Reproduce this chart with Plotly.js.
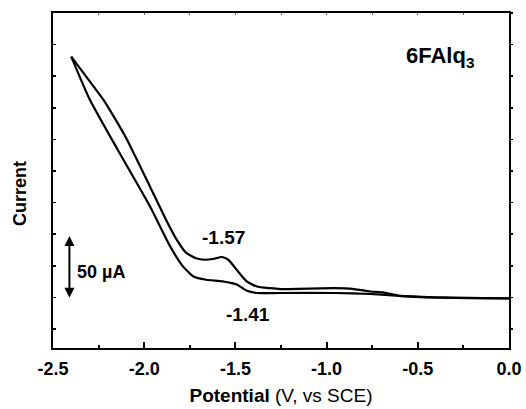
<!DOCTYPE html>
<html>
<head>
<meta charset="utf-8">
<script src="https://cdn.plot.ly/plotly-3.0.1.min.js"></script>
<style>html,body{margin:0;padding:0;background:#fff;}</style>
</head>
<body>
<div id="chart" style="width:526px;height:409px;"></div>
<script>
// Cyclic voltammogram of 6FAlq3 (current in µA, potential in V vs SCE)
var potentialUpper = [0, -0.29, -0.415, -0.6, -0.69, -0.76, -0.85, -0.96, -1.255, -1.31, -1.383, -1.438, -1.493, -1.539, -1.575, -1.623, -1.667, -1.716, -1.771, -1.822, -1.886, -1.968, -2.094, -2.160, -2.224, -2.314, -2.40];
var currentUpper   = [-0.8, -0.3, 0, 1.3, 4.0, 4.7, 6.6, 7.3, 6.6, 7.3, 8.7, 12.7, 21.9, 29.8, 32.0, 30.4, 29.8, 31.0, 35.4, 45.7, 63.1, 87.6, 124.8, 141.4, 156.5, 173.9, 190.5];
var potentialLower = [-2.40, -2.30, -2.15, -1.97, -1.86, -1.79, -1.73, -1.66, -1.57, -1.49, -1.44, -1.38, -1.26, -0.95, -0.76, -0.6, -0.415, -0.29, 0];
var currentLower   = [190.5, 157.0, 118.0, 72.5, 41.0, 25.0, 16.6, 14.0, 12.7, 10.1, 5.5, 3.5, 3.5, 3.5, 2.7, 1.3, 0, -0.3, -0.8];
var xTickVals = [-2.5, -2.0, -1.5, -1.0, -0.5, 0.0];
var xTickText = ["-2.5", "-2.0", "-1.5", "-1.0", "-0.5", "0.0"];
var peakLabels = ["-1.57", "-1.41"];
var compoundLabel = "6FAlq<sub>3</sub>";
var scaleBarLabel = "50 µA";
var scaleBarPotential = -2.41;
var scaleBarCurrent = [-1.5, 48.5];

var FONT = "Arial, 'Liberation Sans', Helvetica, sans-serif";
var lineStyle = {color: "#000", width: 2.2, shape: "spline", smoothing: 0.5};

var traces = [
  {x: potentialUpper, y: currentUpper, mode: "lines", line: lineStyle, hoverinfo: "x+y", showlegend: false},
  {x: potentialLower, y: currentLower, mode: "lines", line: lineStyle, hoverinfo: "x+y", showlegend: false},
  {x: [null], y: [null], xaxis: "x2", yaxis: "y2", showlegend: false, hoverinfo: "skip"}
];

var layout = {
  width: 526, height: 409,
  margin: {l: 53, r: 17, t: 13, b: 61},
  paper_bgcolor: "#fff", plot_bgcolor: "#fff",
  font: {family: FONT, color: "#000"},
  showlegend: false,
  xaxis: {
    range: [-2.5, 0.0], tickmode: "array", tickvals: xTickVals, ticktext: xTickText,
    ticks: "inside", ticklen: 6, tickwidth: 2, tickcolor: "#000",
    minor: {dtick: 0.25, ticks: "inside", ticklen: 3, tickwidth: 2, tickcolor: "#000"},
    showline: true, linewidth: 2, linecolor: "#000", mirror: true,
    showgrid: false, zeroline: false, ticklabelstandoff: 3,
    tickfont: {size: 18, weight: "bold", family: FONT},
    title: {text: "<b>Potential</b> (V, vs SCE)", font: {size: 19, family: FONT}, standoff: 11}
  },
  yaxis: {
    range: [-40, 225], tick0: 0, dtick: 25,
    ticks: "inside", ticklen: 3, tickwidth: 1.5, tickcolor: "#000",
    showticklabels: false,
    showline: true, linewidth: 2, linecolor: "#000", mirror: true,
    showgrid: false, zeroline: false
  },
  xaxis2: {
    overlaying: "x", side: "top", range: [-2.5, 0.0], dtick: 0.25, tick0: 0,
    ticks: "inside", ticklen: 2, tickwidth: 1, tickcolor: "#666",
    showticklabels: false, showline: false, showgrid: false, zeroline: false
  },
  yaxis2: {
    overlaying: "y", side: "right", range: [-40, 225], tick0: 0, dtick: 25,
    ticks: "outside", ticklen: 3, tickwidth: 1.5, tickcolor: "#000",
    showticklabels: false, showline: false, showgrid: false, zeroline: false
  },
  annotations: [
    {xref: "paper", yref: "paper", x: -0.0735, y: 0.461, text: "<b>Current</b>", textangle: -90,
     showarrow: false, font: {size: 18, family: FONT}, xanchor: "center", yanchor: "middle"},
    {xref: "x", yref: "y", x: -0.575, y: 190, text: "<b>" + compoundLabel + "</b>", showarrow: false,
     xanchor: "left", yanchor: "middle", font: {size: 22, family: FONT}},
    {xref: "x", yref: "y", x: -1.565, y: 47.6, text: "<b>" + peakLabels[0] + "</b>", showarrow: false,
     font: {size: 19, family: FONT}},
    {xref: "x", yref: "y", x: -1.431, y: -13.7, text: "<b>" + peakLabels[1] + "</b>", showarrow: false,
     font: {size: 19, family: FONT}},
    {xref: "x", yref: "y", x: -2.38, y: 20, text: "<b>" + scaleBarLabel + "</b>", showarrow: false,
     xanchor: "left", font: {size: 18, family: FONT}},
    {xref: "x", yref: "y", axref: "x", ayref: "y",
     x: scaleBarPotential, y: scaleBarCurrent[1], ax: scaleBarPotential, ay: scaleBarCurrent[0],
     text: "", showarrow: true, arrowhead: 2, arrowside: "end+start", arrowsize: 1, arrowwidth: 2, arrowcolor: "#000",
     standoff: 0, startstandoff: 0}
  ]
};

Plotly.newPlot("chart", traces, layout, {staticPlot: true, displayModeBar: false});
</script>
</body>
</html>
